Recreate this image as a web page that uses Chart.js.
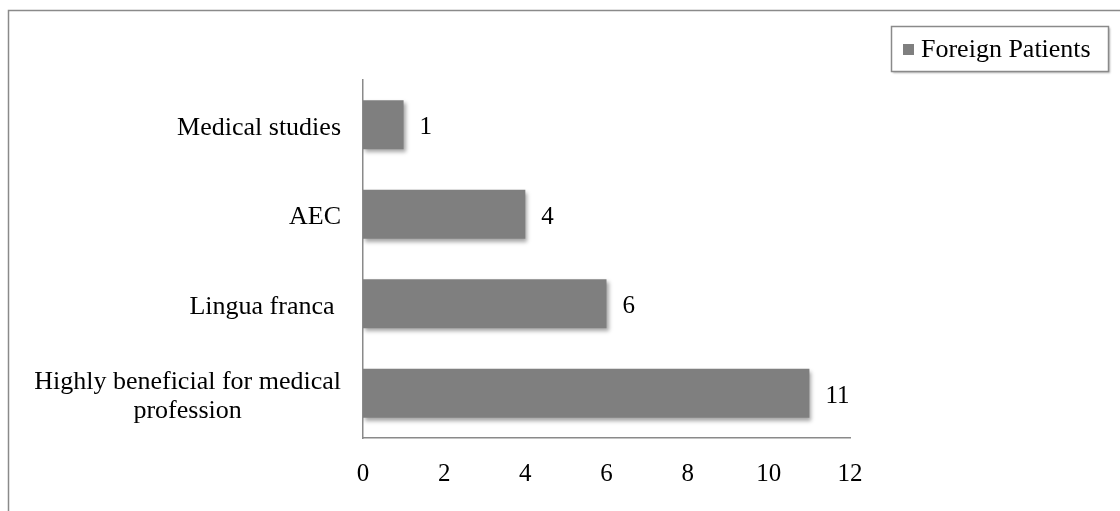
<!DOCTYPE html>
<html>
<head>
<meta charset="utf-8">
<script src="https://cdn.jsdelivr.net/npm/chart.js@4.4.0/dist/chart.umd.min.js"></script>
<style>
  html, body { margin: 0; padding: 0; background: #fff; }
  #wrap { width: 1120px; height: 511px; }
</style>
</head>
<body>
<div id="wrap"><canvas id="barChart" width="1120" height="511"></canvas></div>
<script>
const categories = [
  ["Medical studies"],
  ["AEC"],
  ["Lingua franca "],
  ["Highly beneficial for medical", "profession"],
];
const foreignPatients = [1, 4, 6, 11];
const seriesName = "Foreign Patients";
const xTicks = [0, 2, 4, 6, 8, 10, 12];

const FONT = "'Liberation Serif', 'Times New Roman', serif";
const BAR = "#7f7f7f";

// draws the frame, legend, category labels and value labels
const decorations = {
  id: "decorations",
  beforeDatasetsDraw(chart) {
    const ctx = chart.ctx;
    ctx.save();
    ctx.shadowColor = "rgba(0,0,0,0.35)";
    ctx.shadowOffsetX = 2;
    ctx.shadowOffsetY = 3;
    ctx.shadowBlur = 4;
  },
  afterDatasetsDraw(chart) {
    chart.ctx.restore();
  },
  afterDraw(chart) {
    const ctx = chart.ctx;
    const yScale = chart.scales.y;
    ctx.save();

    // outer frame
    ctx.strokeStyle = "#8a8a8a";
    ctx.lineWidth = 1.5;
    ctx.strokeRect(8.5, 10.5, 1125, 540);

    // category labels
    ctx.fillStyle = "#000";
    ctx.font = "26px " + FONT;
    ctx.textBaseline = "middle";
    categories.forEach((lines, i) => {
      const cy = yScale.getPixelForTick(i) + 3;
      const right = 341;
      const widest = Math.max(...lines.map(l => ctx.measureText(l).width));
      const lh = 29;
      lines.forEach((line, j) => {
        const y = cy + (j - (lines.length - 1) / 2) * lh;
        if (lines.length > 1) {
          ctx.textAlign = "center";
          ctx.fillText(line, right - widest / 2, y);
        } else {
          ctx.textAlign = "right";
          ctx.fillText(line, right, y);
        }
      });
    });

    // value labels
    const meta = chart.getDatasetMeta(0);
    ctx.font = "25px " + FONT;
    ctx.textAlign = "left";
    meta.data.forEach((bar, i) => {
      ctx.fillText(String(foreignPatients[i]), bar.x + 16, bar.y + 3);
    });

    // legend
    const lx = 891, ly = 26, lw = 217, lh2 = 45;
    ctx.shadowColor = "rgba(0,0,0,0.3)";
    ctx.shadowOffsetX = 1.5;
    ctx.shadowOffsetY = 1.5;
    ctx.shadowBlur = 2;
    ctx.fillStyle = "#fff";
    ctx.fillRect(lx, ly, lw, lh2);
    ctx.shadowColor = "transparent";
    ctx.strokeStyle = "#8a8a8a";
    ctx.lineWidth = 1.5;
    ctx.strokeRect(lx + 0.5, ly + 0.5, lw, lh2);
    ctx.fillStyle = BAR;
    ctx.fillRect(lx + 12, ly + 18, 11, 11);
    ctx.fillStyle = "#000";
    ctx.font = "26px " + FONT;
    ctx.fillText(seriesName, lx + 30, ly + lh2 / 2 + 2);

    ctx.restore();
  },
};

new Chart(document.getElementById("barChart").getContext("2d"), {
  type: "bar",
  data: {
    labels: categories,
    datasets: [
      {
        label: seriesName,
        data: foreignPatients,
        backgroundColor: BAR,
        borderWidth: 0,
        barPercentage: 0.55,
        categoryPercentage: 1,
      },
    ],
  },
  options: {
    indexAxis: "y",
    responsive: false,
    animation: false,
    layout: { padding: { top: 80, right: 270, left: 0, bottom: 0 } },
    plugins: {
      legend: { display: false },
      tooltip: { enabled: false },
    },
    scales: {
      x: {
        min: 0,
        max: 12,
        afterBuildTicks(scale) {
          scale.ticks = xTicks.map(v => ({ value: v }));
        },
        afterFit(scale) { scale.height = 73; },
        grid: { display: false },
        border: { display: true, color: "#8a8a8a", width: 1.5 },
        ticks: {
          padding: 13,
          color: "#000",
          font: { family: FONT, size: 25 },
        },
      },
      y: {
        afterFit(scale) { scale.width = 363; },
        grid: { display: false },
        border: { display: true, color: "#8a8a8a", width: 1.5 },
        ticks: { display: false },
      },
    },
  },
  plugins: [decorations],
});
</script>
</body>
</html>
